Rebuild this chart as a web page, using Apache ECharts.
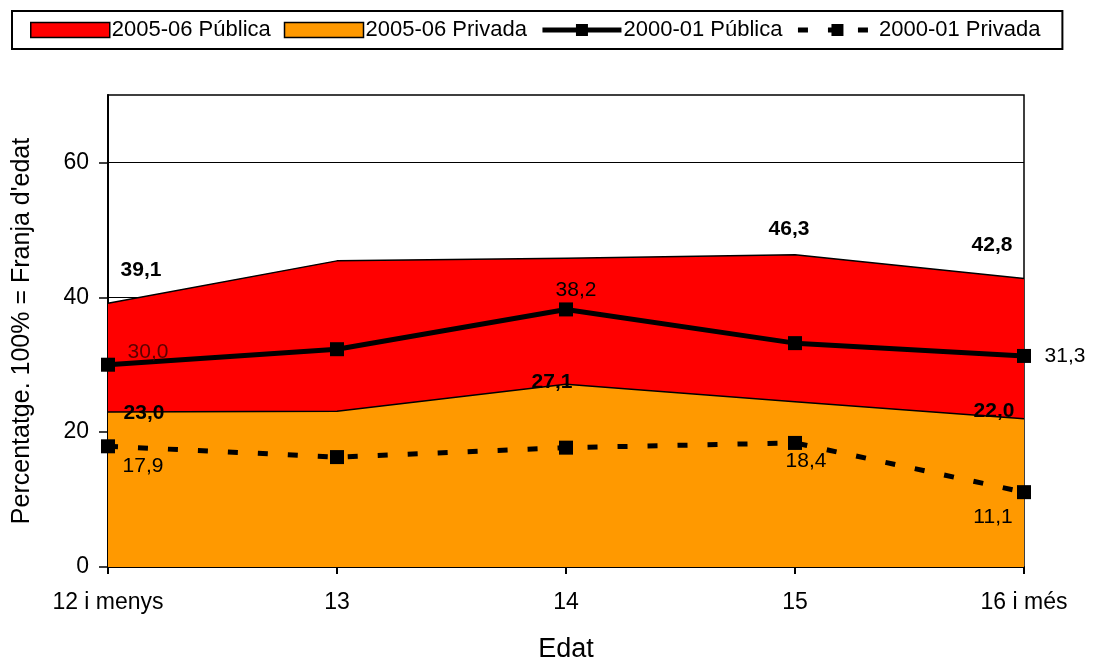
<!DOCTYPE html>
<html><head><meta charset="utf-8">
<script src="https://cdn.jsdelivr.net/npm/echarts@6/dist/echarts.min.js"></script>
<style>html,body{margin:0;padding:0;background:#fff}#c{width:1093px;height:661px}</style>
</head><body><div id="c"></div>
<script>
const categories = ['12 i menys', '13', '14', '15', '16 i més'];
const publica0506 = [39.1, 45.4, 45.8, 46.3, 42.8];
const privada0506 = [23.0, 23.1, 27.1, 24.5, 22.0];
const publica0001 = [30.0, 32.3, 38.2, 33.2, 31.3];
const privada0001 = [17.9, 16.3, 17.7, 18.4, 11.1];
const yTicks = [0, 20, 40, 60];

const FONT = "'Liberation Sans', Arial, sans-serif";
const fmt = v => v.toFixed(1).replace('.', ',');

function withLabels(values, labelCfg, base) {
  return values.map((v, i) => {
    const c = labelCfg[i];
    if (!c) return { value: v, label: { show: false } };
    return { value: v, label: Object.assign({ show: true, position: 'inside' }, base, { offset: c.offset }, c.color ? { color: c.color } : {}) };
  });
}

const boldLbl = { fontFamily: FONT, fontSize: 21, fontWeight: 'bold', color: '#000', formatter: p => fmt(p.value) };
const normLbl = { fontFamily: FONT, fontSize: 21, color: '#000', formatter: p => fmt(p.value) };

const chart = echarts.init(document.getElementById('c'), null, { renderer: 'canvas' });
chart.setOption({
  animation: false,
  backgroundColor: '#fff',
  textStyle: { fontFamily: FONT },
  legend: {
    left: 12, top: 11,
    padding: [8, 22, 8, 18],
    itemGap: 13,
    itemWidth: 79, itemHeight: 15,
    borderColor: '#000', borderWidth: 2,
    backgroundColor: '#fff',
    textStyle: { fontFamily: FONT, fontSize: 22, color: '#000', padding: [0, 0, 0, -3] },
    data: [
      { name: '2005-06 Pública', icon: 'rect', itemStyle: { color: '#FF0000', borderColor: '#000', borderWidth: 1.5 } },
      { name: '2005-06 Privada', icon: 'rect', itemStyle: { color: '#FF9900', borderColor: '#000', borderWidth: 1.5 } },
      { name: '2000-01 Pública', lineStyle: { width: 5 } },
      { name: '2000-01 Privada', lineStyle: { width: 5 } }
    ]
  },
  grid: { left: 108, right: 69, top: 95, bottom: 94, show: true, borderColor: '#000', borderWidth: 1.5, backgroundColor: '#fff', containLabel: false, outerBoundsMode: 'none' },
  xAxis: {
    type: 'category', data: categories, boundaryGap: false,
    name: 'Edat', nameLocation: 'middle', nameGap: 69,
    nameTextStyle: { fontFamily: FONT, fontSize: 27, color: '#000' },
    axisLine: { lineStyle: { color: '#000', width: 2 } },
    axisTick: { show: true, length: 7, lineStyle: { color: '#000', width: 2 } },
    axisLabel: { fontFamily: FONT, fontSize: 23, color: '#000', margin: 24 },
    splitLine: { show: false }
  },
  yAxis: {
    type: 'value', min: 0, max: 70, interval: 20,
    name: "Percentatge. 100% = Franja d'edat", nameLocation: 'middle', nameGap: 73,
    nameTextStyle: { fontFamily: FONT, fontSize: 25, color: '#000' },
    axisLine: { show: true, lineStyle: { color: '#000', width: 2 } },
    axisTick: { show: true, length: 9, lineStyle: { color: '#000', width: 1.5 }, customValues: yTicks },
    axisLabel: { fontFamily: FONT, fontSize: 23, color: '#000', margin: 19, customValues: yTicks },
    splitLine: { show: true, lineStyle: { color: '#000', width: 1.2 } }
  },
  series: [
    {
      name: '2005-06 Pública', type: 'line', z: 2,
      symbol: 'rect', symbolSize: 1, itemStyle: { color: 'rgba(0,0,0,0)' },
      lineStyle: { color: '#000', width: 1.5 },
      areaStyle: { color: '#FF0000', opacity: 1 },
      data: withLabels(publica0506, { 0: { offset: [33, -33] }, 3: { offset: [-6, -26] }, 4: { offset: [-32, -33] } }, boldLbl)
    },
    {
      name: '2005-06 Privada', type: 'line', z: 3,
      symbol: 'rect', symbolSize: 1, itemStyle: { color: 'rgba(0,0,0,0)' },
      lineStyle: { color: '#000', width: 1.5 },
      areaStyle: { color: '#FF9900', opacity: 1 },
      data: withLabels(privada0506, { 0: { offset: [36, 1] }, 2: { offset: [-14, -2] }, 4: { offset: [-30, -7] } }, boldLbl)
    },
    {
      name: '2000-01 Pública', type: 'line', z: 5,
      symbol: 'rect', symbolSize: 14, itemStyle: { color: '#000' },
      lineStyle: { color: '#000', width: 5 },
      data: withLabels(publica0001, { 0: { offset: [40, -13], color: '#5c0000' }, 2: { offset: [10, -19] }, 4: { offset: [41, 0] } }, normLbl)
    },
    {
      name: '2000-01 Privada', type: 'line', z: 5,
      symbol: 'rect', symbolSize: 14, itemStyle: { color: '#000' },
      lineStyle: { color: '#000', width: 5, type: [10, 20] },
      data: withLabels(privada0001, { 0: { offset: [35, 20] }, 3: { offset: [11, 18] }, 4: { offset: [-31, 25] } }, normLbl)
    }
  ]
});
</script></body></html>
